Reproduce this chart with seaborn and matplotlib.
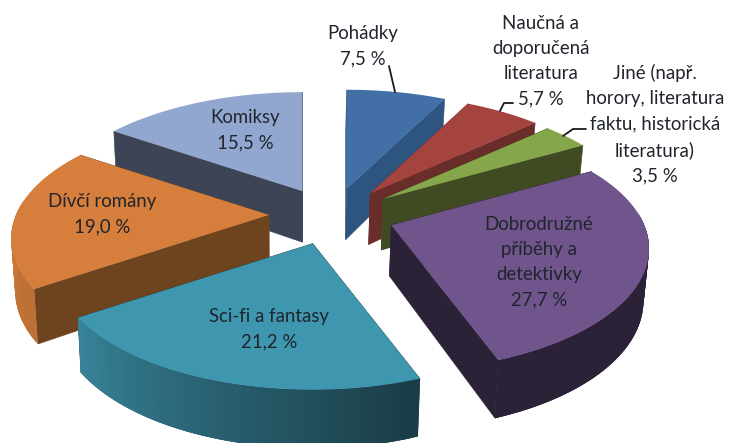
import numpy as np
import matplotlib
matplotlib.use("Agg")
import matplotlib.pyplot as plt
import seaborn as sns

# ---- data ----
categories = ["Pohádky", "Naučná a\ndoporučená\nliteratura",
              "Jiné (např.\nhorory, literatura\nfaktu, historická\nliteratura)",
              "Dobrodružné\npříběhy a\ndetektivky", "Sci-fi a fantasy",
              "Dívčí romány", "Komiksy"]
values = [7.5, 5.7, 3.5, 27.7, 21.2, 19.0, 15.5]
top_colors = ["#426FA5", "#A5433F", "#86A64B", "#70548C", "#3F96AF", "#D67F3C", "#91A7CF"]
cut_colors = ["#2D5580", "#692D2A", "#414B23", "#2B2238", "#1C3E48", "#6E441E", "#3C4455"]
draw_order = [6, 0, 1, 2, 3, 5, 4]
label_xy = [(363, 46), (541, 61), (655, 124), (539, 262), (269, 329), (102, 214), (245, 130)]
leaders = [[(389, 66), (395, 92)],
           [(513, 103), (504, 103), (500, 111)],
           [(586, 129), (573, 129), (563, 136)]]

# ---- projection parameters ----
W, H = 729, 443
CX, CY = 332, 215
EXP_X, EXP_BACK, EXP_FRONT = 63, 27, 30
RX, RY, PERSP = 253, 118, 0.192
WALL = 51

sns.set_theme(style="white")
plt.rcParams["font.family"] = ["Lato", "DejaVu Sans"]
palette = sns.color_palette(top_colors)
dark_palette = sns.color_palette(cut_colors)

fig, ax = plt.subplots(figsize=(W / 100, H / 100), dpi=100)
ax.set_position([0, 0, 1, 1])
ax.set_xlim(0, W)
ax.set_ylim(H, 0)
ax.axis("off")


def top_pt(ax0, ay0, ang):
    u, v = np.sin(ang), np.cos(ang)
    w = 1 + PERSP * v
    return ax0 + RX * u / w, ay0 - RY * v / w


def drop(pt, v=0.0):
    h = WALL / (1 + 0.13 * v)
    return 275 + (pt[0] - 275) * 0.985, pt[1] + h


def outer_shade(deg):
    return np.interp(deg, [0, 160, 236, 270, 360], [0.40, 0.40, 0.88, 0.95, 0.95])


edges = np.cumsum([0] + values) / sum(values) * 2 * np.pi
for i in draw_order:
    a0, a1 = edges[i], edges[i + 1]
    mid = (a0 + a1) / 2
    ey = EXP_BACK if np.cos(mid) > 0 else EXP_FRONT
    ox, oy = CX + EXP_X * np.sin(mid), CY - ey * np.cos(mid)
    top, dark = palette[i], dark_palette[i]
    angs = np.linspace(a0, a1, 90)
    arc = [top_pt(ox, oy, a) for a in angs]
    apex = (ox, oy)
    z = 10 + draw_order.index(i)

    # radial cut walls
    for pt, a in ((arc[0], a0), (arc[-1], a1)):
        ax.fill(*zip(apex, pt, drop(pt, np.cos(a)), drop(apex)),
                color=dark, lw=0.4, zorder=z)
    # outer wall on the visible part of the rim; strips overlap to avoid seams
    for j in range(len(angs) - 1):
        if np.cos(angs[j]) > 0.1 and np.cos(angs[j + 1]) > 0.1:
            continue
        k = min(j + 3, len(angs) - 1)
        p, q = arc[j], arc[k]
        s = outer_shade(np.degrees((angs[j] + angs[j + 1]) / 2))
        c = dark if i in (0, 1, 2, 3) else tuple(x * s for x in top)
        ax.fill(*zip(p, q, drop(q, np.cos(angs[k])), drop(p, np.cos(angs[j]))),
                color=c, lw=0, zorder=z)
    ax.fill(*zip(apex, *arc), color=top, lw=0, zorder=z)

for pts in leaders:
    ax.plot(*zip(*pts), color="#1A1A1A", lw=1.3, zorder=30, solid_capstyle="round")

for name, val, (x, y) in zip(categories, values, label_xy):
    pct = f"{val:.1f}".replace(".", ",") + " %"
    ax.text(x, y, f"{name}\n{pct}", ha="center", va="center", fontsize=13.4,
            color="#20242C", linespacing=1.58, zorder=40)

fig.savefig("out.png", dpi=100)
